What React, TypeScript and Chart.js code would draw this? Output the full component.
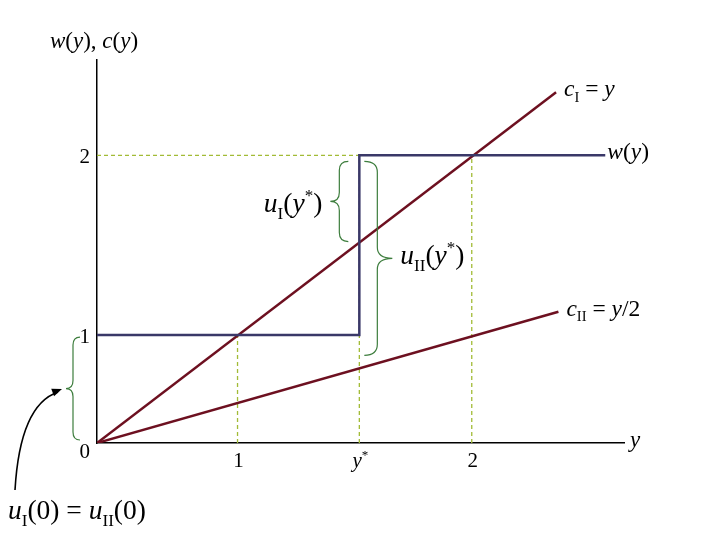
import { useEffect, useRef } from 'react';
import { Chart, registerables } from 'chart.js';

Chart.register(...registerables);

// ---- data (diagram units; the drawn origin sits at AXIS_MIN and is labelled "0")
const AXIS_MIN = 0.4;
const X_MAX = 2.65;
const Y_MAX = 2.53;
const Y_STAR = 1.52;

const cIX = [0.4, 2.36];
const cIY = [0.4, 2.35];
const cIIX = [0.4, 2.37];
const cIIY = [0.4, 1.13];
const wX = [0.4, Y_STAR, Y_STAR, 2.57];
const wY = [1, 1, 2, 2];

// dashed guide segments [x0, y0, x1, y1]
const guideH2 = [0.4, 2, 2, 2];
const guideV1 = [1, 0.4, 1, 1];
const guideVStar = [Y_STAR, 0.4, Y_STAR, 2];
const guideV2 = [2, 0.4, 2, 2];

const xTickValues = [1, Y_STAR, 2];
const xTickLabels = ['1', 'y*', '2'];
const yTickValues = [AXIS_MIN, 1, 2];
const yTickLabels = ['0', '1', '2'];

const FONT = '"Liberation Serif", "Times New Roman", "DejaVu Serif", serif';
const RED = '#6d1020';
const NAVY = '#3a3868';
const GUIDE = '#a2bb36';
const GREEN = '#3d7d3d';

type Seg = { t: string; i?: boolean; sub?: boolean; sup?: boolean };

function segFont(s: Seg, size: number) {
  const sz = s.sub || s.sup ? size * 0.62 : size;
  return `${s.i ? 'italic ' : ''}${sz}px ${FONT}`;
}

function richWidth(ctx: CanvasRenderingContext2D, segs: Seg[], size: number) {
  let w = 0;
  for (const s of segs) {
    ctx.font = segFont(s, size);
    w += ctx.measureText(s.t).width;
  }
  return w;
}

function drawRich(
  ctx: CanvasRenderingContext2D,
  segs: Seg[],
  x: number,
  y: number,
  size: number,
  align: 'left' | 'right' | 'center' = 'left'
) {
  const w = richWidth(ctx, segs, size);
  let cx = align === 'left' ? x : align === 'right' ? x - w : x - w / 2;
  ctx.save();
  ctx.fillStyle = '#000';
  ctx.textBaseline = 'alphabetic';
  ctx.textAlign = 'left';
  for (const s of segs) {
    ctx.font = segFont(s, size);
    const dy = s.sub ? size * 0.24 : s.sup ? -size * 0.4 : 0;
    ctx.fillText(s.t, cx, y + dy);
    cx += ctx.measureText(s.t).width;
  }
  ctx.restore();
}

function tickSegs(label: string): Seg[] {
  if (label === 'y*') return [{ t: 'y', i: true }, { t: '*', sup: true }];
  return [{ t: label }];
}

// vertical curly brace; tip points left when xt < xs
function brace(
  ctx: CanvasRenderingContext2D,
  xe: number,
  xs: number,
  xt: number,
  y1: number,
  y2: number,
  r: number
) {
  const ym = (y1 + y2) / 2;
  ctx.beginPath();
  ctx.moveTo(xe, y1);
  ctx.quadraticCurveTo(xs, y1, xs, y1 + r);
  ctx.lineTo(xs, ym - r);
  ctx.quadraticCurveTo(xs, ym, xt, ym);
  ctx.quadraticCurveTo(xs, ym, xs, ym + r);
  ctx.lineTo(xs, y2 - r);
  ctx.quadraticCurveTo(xs, y2, xe, y2);
  ctx.stroke();
}

const pts = (xs: number[], ys: number[]) => xs.map((x, i) => ({ x, y: ys[i] }));
const seg = (s: number[]) => [
  { x: s[0], y: s[1] },
  { x: s[2], y: s[3] },
];

const overlay = {
  id: 'overlay',
  afterDraw(chart: any) {
    const ctx: CanvasRenderingContext2D = chart.ctx;
    const xs = chart.scales.x;
    const ys = chart.scales.y;
    const px = (v: number) => xs.getPixelForValue(v);
    const py = (v: number) => ys.getPixelForValue(v);
    const ox = px(AXIS_MIN);
    const oy = py(AXIS_MIN);

    // tick labels
    xTickValues.forEach((v, i) => {
      drawRich(ctx, tickSegs(xTickLabels[i]), px(v) + 1, oy + 24, 21, 'center');
    });
    yTickValues.forEach((v, i) => {
      const dy = v === AXIS_MIN ? 15 : 8;
      drawRich(ctx, tickSegs(yTickLabels[i]), ox - 7, py(v) + dy, 21, 'right');
    });

    // axis titles
    drawRich(
      ctx,
      [
        { t: 'w', i: true },
        { t: '(' },
        { t: 'y', i: true },
        { t: '), ' },
        { t: 'c', i: true },
        { t: '(' },
        { t: 'y', i: true },
        { t: ')' },
      ],
      ox - 47,
      48,
      23
    );
    drawRich(ctx, [{ t: 'y', i: true }], xs.right + 6, oy + 4, 23);

    // curve labels
    drawRich(
      ctx,
      [{ t: 'c', i: true }, { t: 'I', sub: true }, { t: ' = ' }, { t: 'y', i: true }],
      px(cIX[1]) + 8,
      py(cIY[1]) + 4,
      23.5
    );
    drawRich(
      ctx,
      [{ t: 'w', i: true }, { t: '(' }, { t: 'y', i: true }, { t: ')' }],
      px(wX[3]) + 2,
      py(wY[3]) + 4,
      23.5
    );
    drawRich(
      ctx,
      [
        { t: 'c', i: true },
        { t: 'II', sub: true },
        { t: ' = ' },
        { t: 'y', i: true },
        { t: '/2' },
      ],
      px(cIIX[1]) + 8,
      py(cIIY[1]) + 4,
      23.5
    );

    // braces
    ctx.save();
    ctx.strokeStyle = GREEN;
    ctx.lineWidth = 1.2;
    const sx = px(Y_STAR);
    const cIAtStar = Y_STAR;
    const cIIAtStar = cIIY[0] + ((cIIY[1] - cIIY[0]) * (Y_STAR - cIIX[0])) / (cIIX[1] - cIIX[0]);
    brace(ctx, sx - 11, sx - 20, sx - 29, py(2) + 6, py(cIAtStar), 9);
    brace(ctx, sx + 5, sx + 18, sx + 33, py(2) + 6, py(cIIAtStar) - 13, 11);
    brace(ctx, ox - 17, ox - 24, ox - 31, py(1) + 2, oy - 3, 8);
    ctx.restore();

    // brace labels
    drawRich(
      ctx,
      [
        { t: 'u', i: true },
        { t: 'I', sub: true },
        { t: '(' },
        { t: 'y', i: true },
        { t: '*', sup: true },
        { t: ')' },
      ],
      sx - 37,
      212,
      27.5,
      'right'
    );
    drawRich(
      ctx,
      [
        { t: 'u', i: true },
        { t: 'II', sub: true },
        { t: '(' },
        { t: 'y', i: true },
        { t: '*', sup: true },
        { t: ')' },
      ],
      sx + 41,
      264,
      27.5
    );
    drawRich(
      ctx,
      [
        { t: 'u', i: true },
        { t: 'I', sub: true },
        { t: '(0) = ' },
        { t: 'u', i: true },
        { t: 'II', sub: true },
        { t: '(0)' },
      ],
      8,
      519,
      27.5
    );

    // arrow
    const tipX = ox - 35;
    const tipY = py((1 + AXIS_MIN) / 2) + 0;
    const sX = 15;
    const sY = 490;
    const cX = 20;
    const cY = 405;
    ctx.save();
    ctx.strokeStyle = '#000';
    ctx.fillStyle = '#000';
    ctx.lineWidth = 1.6;
    ctx.beginPath();
    ctx.moveTo(sX, sY);
    ctx.quadraticCurveTo(cX, cY, tipX - 4, tipY + 3);
    ctx.stroke();
    const ang = Math.atan2(tipY - cY, tipX - cX);
    const L = 10;
    const W = 4;
    ctx.beginPath();
    ctx.moveTo(tipX, tipY);
    ctx.lineTo(tipX - L * Math.cos(ang) + W * Math.sin(ang), tipY - L * Math.sin(ang) - W * Math.cos(ang));
    ctx.lineTo(tipX - L * Math.cos(ang) - W * Math.sin(ang), tipY - L * Math.sin(ang) + W * Math.cos(ang));
    ctx.closePath();
    ctx.fill();
    ctx.restore();
  },
};

export default function App() {
  const ref = useRef<HTMLCanvasElement | null>(null);

  useEffect(() => {
    if (!ref.current) return;
    const guideStyle = {
      borderColor: GUIDE,
      borderWidth: 1.3,
      borderDash: [4, 3],
      pointRadius: 0,
      showLine: true,
      fill: false,
    };
    const chart = new Chart(ref.current, {
      type: 'scatter',
      data: {
        datasets: [
          { label: 'w', data: pts(wX, wY), borderColor: NAVY, borderWidth: 2.5, pointRadius: 0, showLine: true },
          { label: 'cI', data: pts(cIX, cIY), borderColor: RED, borderWidth: 2.5, pointRadius: 0, showLine: true },
          { label: 'cII', data: pts(cIIX, cIIY), borderColor: RED, borderWidth: 2.5, pointRadius: 0, showLine: true },
          { label: 'g1', data: seg(guideH2), ...guideStyle },
          { label: 'g2', data: seg(guideV1), ...guideStyle },
          { label: 'g3', data: seg(guideVStar), ...guideStyle },
          { label: 'g4', data: seg(guideV2), ...guideStyle },
        ] as any,
      },
      options: {
        animation: false,
        responsive: false,
        events: [],
        layout: { padding: { left: 97, right: 96, top: 60, bottom: 97 } },
        plugins: { legend: { display: false }, tooltip: { enabled: false } },
        scales: {
          x: {
            type: 'linear',
            min: AXIS_MIN,
            max: X_MAX,
            ticks: { display: false },
            grid: { display: false, drawTicks: false },
            border: { display: true, color: '#000', width: 1.5 },
            afterFit: (s: any) => {
              s.height = 0;
            },
          },
          y: {
            type: 'linear',
            min: AXIS_MIN,
            max: Y_MAX,
            ticks: { display: false },
            grid: { display: false, drawTicks: false },
            border: { display: true, color: '#000', width: 1.5 },
            afterFit: (s: any) => {
              s.width = 0;
            },
          },
        },
      } as any,
      plugins: [overlay],
    });
    return () => chart.destroy();
  }, []);

  return (
    <div style={{ position: 'fixed', left: 0, top: 0, width: 720, height: 540, background: '#fff' }}>
      <canvas ref={ref} width={720} height={540} style={{ display: 'block' }} />
    </div>
  );
}
